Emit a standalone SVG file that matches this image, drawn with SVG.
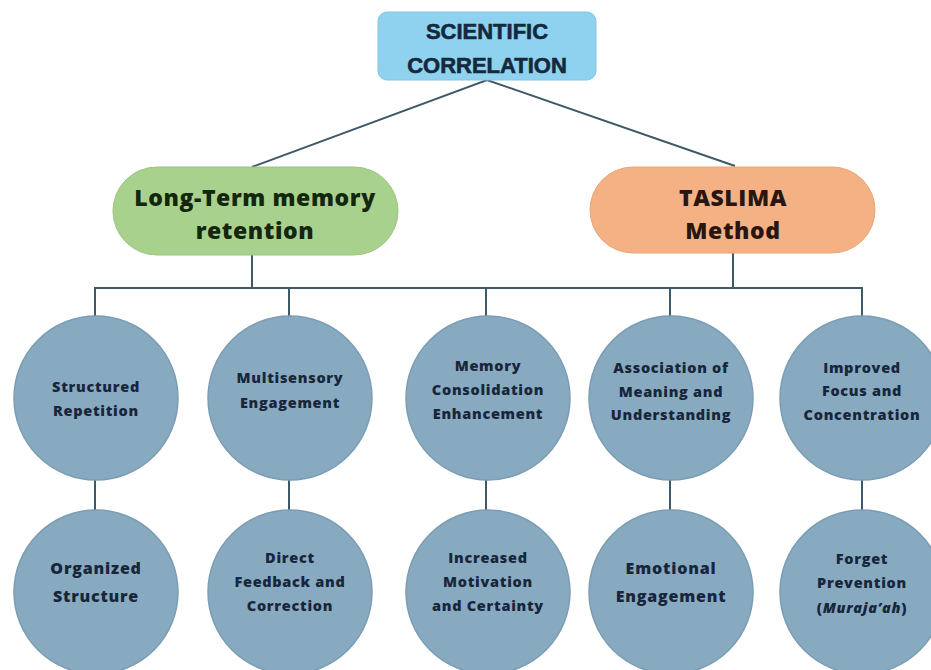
<svg xmlns="http://www.w3.org/2000/svg" width="931" height="670" viewBox="0 0 931 670">
  <style>
    .link { fill: none; stroke: #3f5868; stroke-width: 2; }
    .circ { fill: #88aac1; stroke: #7b9db4; stroke-width: 1.5; }
    .ct { font-family: "Open Sans", "Liberation Sans", sans-serif; font-weight: 800; font-size: 14.5px; letter-spacing: 0.7px; fill: #17263a; text-anchor: middle; }
    .cb { font-size: 16px; letter-spacing: 0.8px; }
    .hd { font-family: "Liberation Sans", Arial, sans-serif; font-weight: 700; text-anchor: middle; stroke: #16283c; stroke-width: 0.6px; }
    .hp { font-family: "Open Sans", "Liberation Sans", sans-serif; font-weight: 800; text-anchor: middle; }
  </style>
  <rect width="931" height="670" fill="#ffffff"/>

  <!-- connectors -->
  <g id="connectors">
    <polyline class="link" points="252,167 487,80 735,166"/>
    <line class="link" x1="252" y1="255" x2="252" y2="288"/>
    <line class="link" x1="733" y1="253" x2="733" y2="288"/>
    <line class="link" x1="94" y1="288" x2="863" y2="288"/>
    <line class="link" x1="95" y1="287" x2="95" y2="318"/>
    <line class="link" x1="289" y1="287" x2="289" y2="318"/>
    <line class="link" x1="486" y1="287" x2="486" y2="318"/>
    <line class="link" x1="670" y1="287" x2="670" y2="318"/>
    <line class="link" x1="862" y1="287" x2="862" y2="318"/>
    <line class="link" x1="95" y1="478" x2="95" y2="511"/>
    <line class="link" x1="289" y1="478" x2="289" y2="511"/>
    <line class="link" x1="486" y1="478" x2="486" y2="511"/>
    <line class="link" x1="670" y1="478" x2="670" y2="511"/>
    <line class="link" x1="862" y1="478" x2="862" y2="511"/>
  </g>

  <!-- root -->
  <g id="root">
    <rect x="378" y="12" width="218" height="68" rx="9" fill="#8fd2ef" stroke="#84c6e2" stroke-width="1"/>
    <text class="hd" x="487" y="39" font-size="22" fill="#16283c">SCIENTIFIC</text>
    <text class="hd" x="487" y="73" font-size="22" fill="#16283c">CORRELATION</text>
  </g>

  <!-- second level -->
  <g id="long-term">
    <rect x="113" y="167" width="285" height="88" rx="44" fill="#a9d18e" stroke="#9cc480" stroke-width="1"/>
    <text class="hp" x="255" y="206" font-size="23" letter-spacing="0.6" fill="#13260e">Long-Term memory</text>
    <text class="hp" x="255" y="239" font-size="23" letter-spacing="0.6" fill="#13260e">retention</text>
  </g>
  <g id="taslima">
    <rect x="590" y="167" width="285" height="86" rx="43" fill="#f4b183" stroke="#e9a576" stroke-width="1"/>
    <text class="hp" x="733" y="206" font-size="23" letter-spacing="0.6" fill="#2a1610">TASLIMA</text>
    <text class="hp" x="733" y="239" font-size="23" letter-spacing="0.6" fill="#2a1610">Method</text>
  </g>

  <!-- upper circles -->
  <g id="structured-repetition">
    <circle class="circ" cx="96" cy="398" r="82"/>
    <text class="ct" x="96" y="392">Structured</text>
    <text class="ct" x="96" y="416">Repetition</text>
  </g>
  <g id="multisensory">
    <circle class="circ" cx="290" cy="398" r="82"/>
    <text class="ct" x="290" y="383">Multisensory</text>
    <text class="ct" x="290" y="408">Engagement</text>
  </g>
  <g id="memory-consolidation">
    <circle class="circ" cx="488" cy="398" r="82"/>
    <text class="ct" x="488" y="371">Memory</text>
    <text class="ct" x="488" y="395">Consolidation</text>
    <text class="ct" x="488" y="419">Enhancement</text>
  </g>
  <g id="association">
    <circle class="circ" cx="671" cy="398" r="82"/>
    <text class="ct" x="671" y="373">Association of</text>
    <text class="ct" x="671" y="397">Meaning and</text>
    <text class="ct" x="671" y="420">Understanding</text>
  </g>
  <g id="focus">
    <circle class="circ" cx="862" cy="398" r="82"/>
    <text class="ct" x="862" y="373">Improved</text>
    <text class="ct" x="862" y="396">Focus and</text>
    <text class="ct" x="862" y="420">Concentration</text>
  </g>

  <!-- lower circles -->
  <g id="organized-structure">
    <circle class="circ" cx="96" cy="592" r="82"/>
    <text class="ct cb" x="96" y="574">Organized</text>
    <text class="ct cb" x="96" y="602">Structure</text>
  </g>
  <g id="direct-feedback">
    <circle class="circ" cx="290" cy="592" r="82"/>
    <text class="ct" x="290" y="563">Direct</text>
    <text class="ct" x="290" y="587">Feedback and</text>
    <text class="ct" x="290" y="611">Correction</text>
  </g>
  <g id="motivation">
    <circle class="circ" cx="488" cy="592" r="82"/>
    <text class="ct" x="488" y="563">Increased</text>
    <text class="ct" x="488" y="587">Motivation</text>
    <text class="ct" x="488" y="611">and Certainty</text>
  </g>
  <g id="emotional">
    <circle class="circ" cx="671" cy="592" r="82"/>
    <text class="ct cb" x="671" y="574">Emotional</text>
    <text class="ct cb" x="671" y="602">Engagement</text>
  </g>
  <g id="forget-prevention">
    <circle class="circ" cx="862" cy="592" r="82"/>
    <text class="ct" x="862" y="564">Forget</text>
    <text class="ct" x="862" y="588">Prevention</text>
    <text class="ct" x="862" y="613">(<tspan font-style="italic">Muraja’ah</tspan>)</text>
  </g>
</svg>
